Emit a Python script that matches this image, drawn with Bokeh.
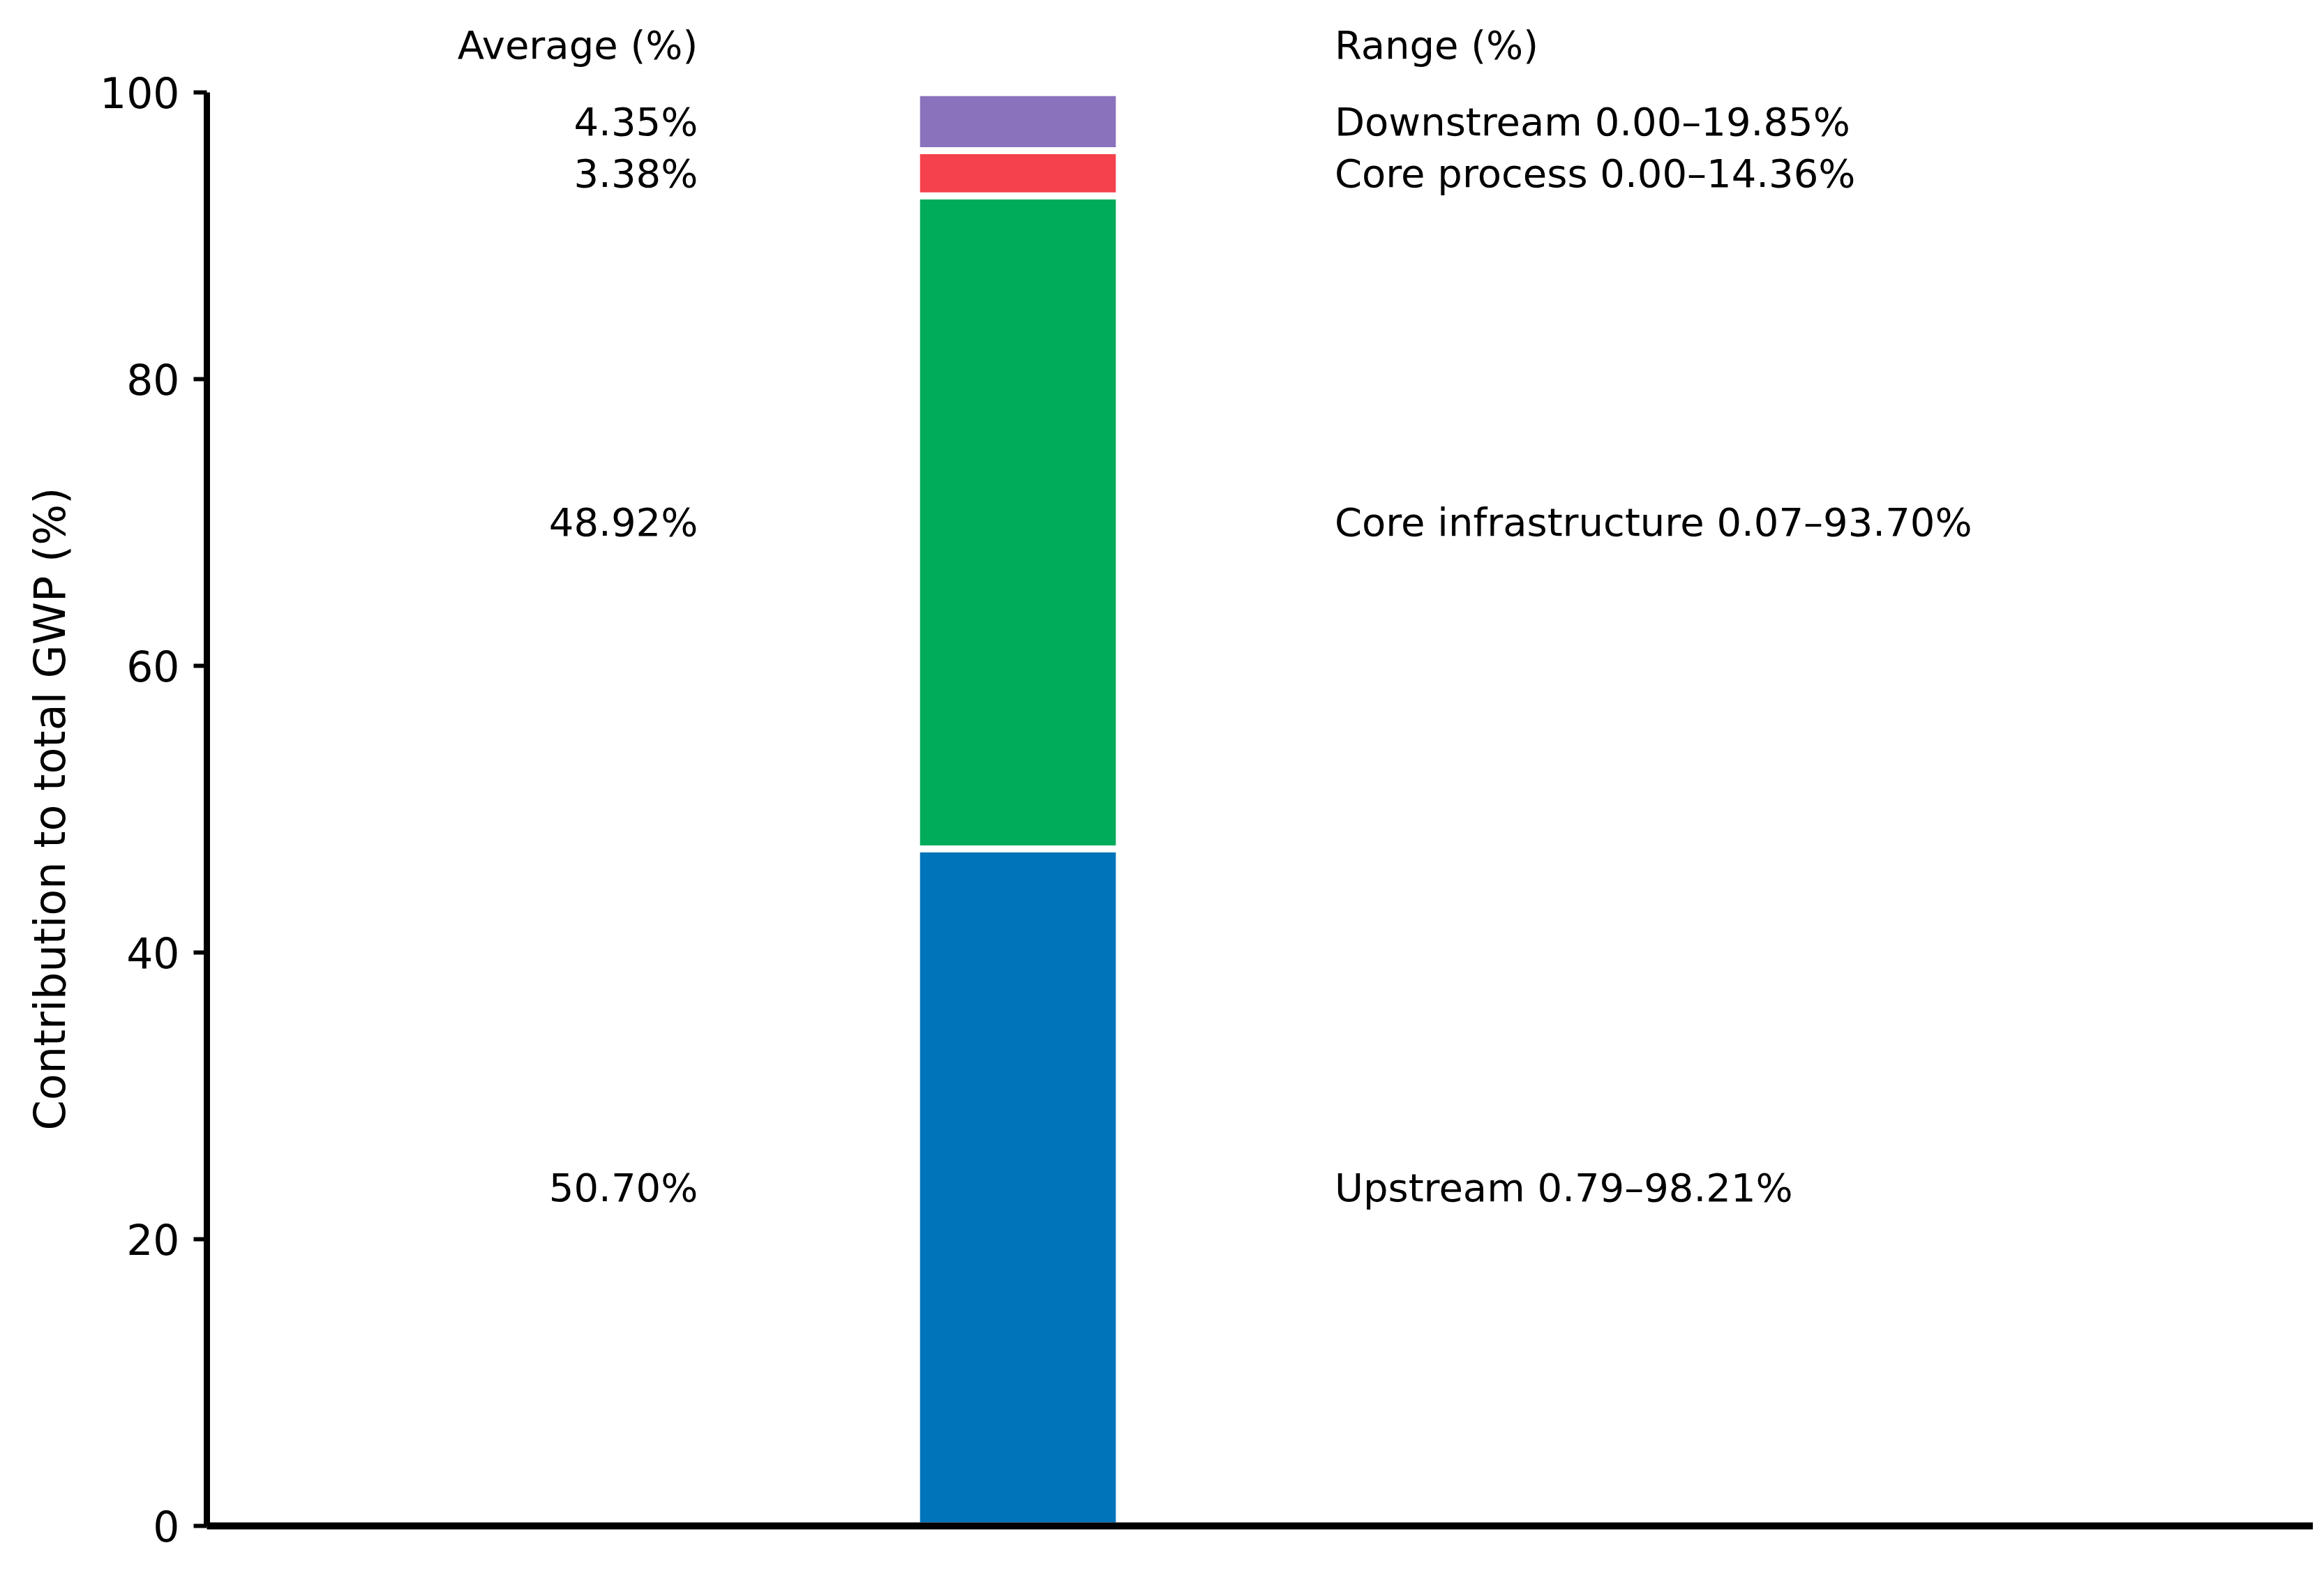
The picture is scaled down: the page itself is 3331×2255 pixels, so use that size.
from bokeh.plotting import figure
from bokeh.models import ColumnDataSource, Range1d, FixedTicker, Title
from bokeh.core.properties import value
from bokeh.embed import file_html
from bokeh.resources import INLINE

# ---- data ----
categories = ["Upstream", "Core infrastructure", "Core process", "Downstream"]
averages = [50.70, 48.92, 3.38, 4.35]
range_low = [0.79, 0.07, 0.00, 0.00]
range_high = [98.21, 93.70, 14.36, 19.85]
colors = ["#0074BA", "#00AB5A", "#F5414D", "#8B72BD"]
headers = ["Average (%)", "Range (%)"]
y_ticks = [0, 20, 40, 60, 80, 100]
y_label = "Contribution to total GWP (%)"

FONT = "DejaVu Sans"
AVG_X = -0.789
RNG_X = 0.781
HEAD_Y = 103.3

total = sum(averages)
shares = [a / total * 100 for a in averages]
bottoms, tops = [], []
acc = 0.0
for s in shares:
    bottoms.append(acc)
    acc += s
    tops.append(acc)
mids = [(b + t) / 2 for b, t in zip(bottoms, tops)]

bar_src = ColumnDataSource(dict(
    x=[0.0] * len(categories), bottom=bottoms, top=tops, color=colors,
))
avg_src = ColumnDataSource(dict(
    x=[AVG_X] * len(categories), y=mids,
    text=[f"{a:.2f}%" for a in averages],
))
rng_src = ColumnDataSource(dict(
    x=[RNG_X] * len(categories), y=mids,
    text=[f"{c} {lo:.2f}\u2013{hi:.2f}%" for c, lo, hi in zip(categories, range_low, range_high)],
))
head_src = ColumnDataSource(dict(
    x=[AVG_X, RNG_X], y=[HEAD_Y, HEAD_Y], text=headers, align=["right", "left"],
))

p = figure(width=3315, height=2239, output_backend="svg", toolbar_location=None,
           x_range=Range1d(-2.0, 3.194), y_range=Range1d(0, 106),
           min_border_left=282, min_border_right=0, min_border_top=9,
           min_border_bottom=52)
p.outline_line_color = None
p.grid.visible = False
p.background_fill_color = "white"
p.border_fill_color = "white"

p.vbar(x="x", width=0.5, bottom="bottom", top="top", source=bar_src,
       fill_color="color", line_color="white", line_width=10)

p.text(x="x", y="y", text="text", source=avg_src, text_align="right",
       text_baseline="middle", text_font=value(FONT), text_font_size="56px",
       text_color="black")
p.text(x="x", y="y", text="text", source=rng_src, text_align="left",
       text_baseline="middle", text_font=value(FONT), text_font_size="56px",
       text_color="black")
p.text(x="x", y="y", text="text", source=head_src, text_align="align",
       text_baseline="middle", text_font=value(FONT), text_font_size="56px",
       text_color="black")

# y axis
ya = p.yaxis[0]
ya.bounds = (0, 100)
ya.ticker = FixedTicker(ticks=y_ticks)
ya.major_label_text_font = FONT
ya.major_label_text_font_size = "60px"
ya.major_label_text_color = "black"
ya.major_label_standoff = 20
ya.axis_line_width = 9
ya.axis_line_color = "black"
ya.major_tick_line_width = 6
ya.major_tick_line_color = "black"
ya.major_tick_out = 19
ya.major_tick_in = 0
ya.minor_tick_line_color = None

# y-axis title, placed so it is centred on the 0-100 span
p.add_layout(Title(text=y_label, align="left", offset=567, standoff=64,
                   vertical_align="bottom", text_font=FONT,
                   text_font_size="62px", text_font_style="normal",
                   text_color="black"), "left")

# x axis: line only
xa = p.xaxis[0]
xa.ticker = FixedTicker(ticks=[])
xa.axis_line_width = 10
xa.axis_line_color = "black"
xa.major_tick_line_color = None
xa.minor_tick_line_color = None
xa.major_label_text_color = None

open("out.html", "w").write(file_html(p, INLINE))
